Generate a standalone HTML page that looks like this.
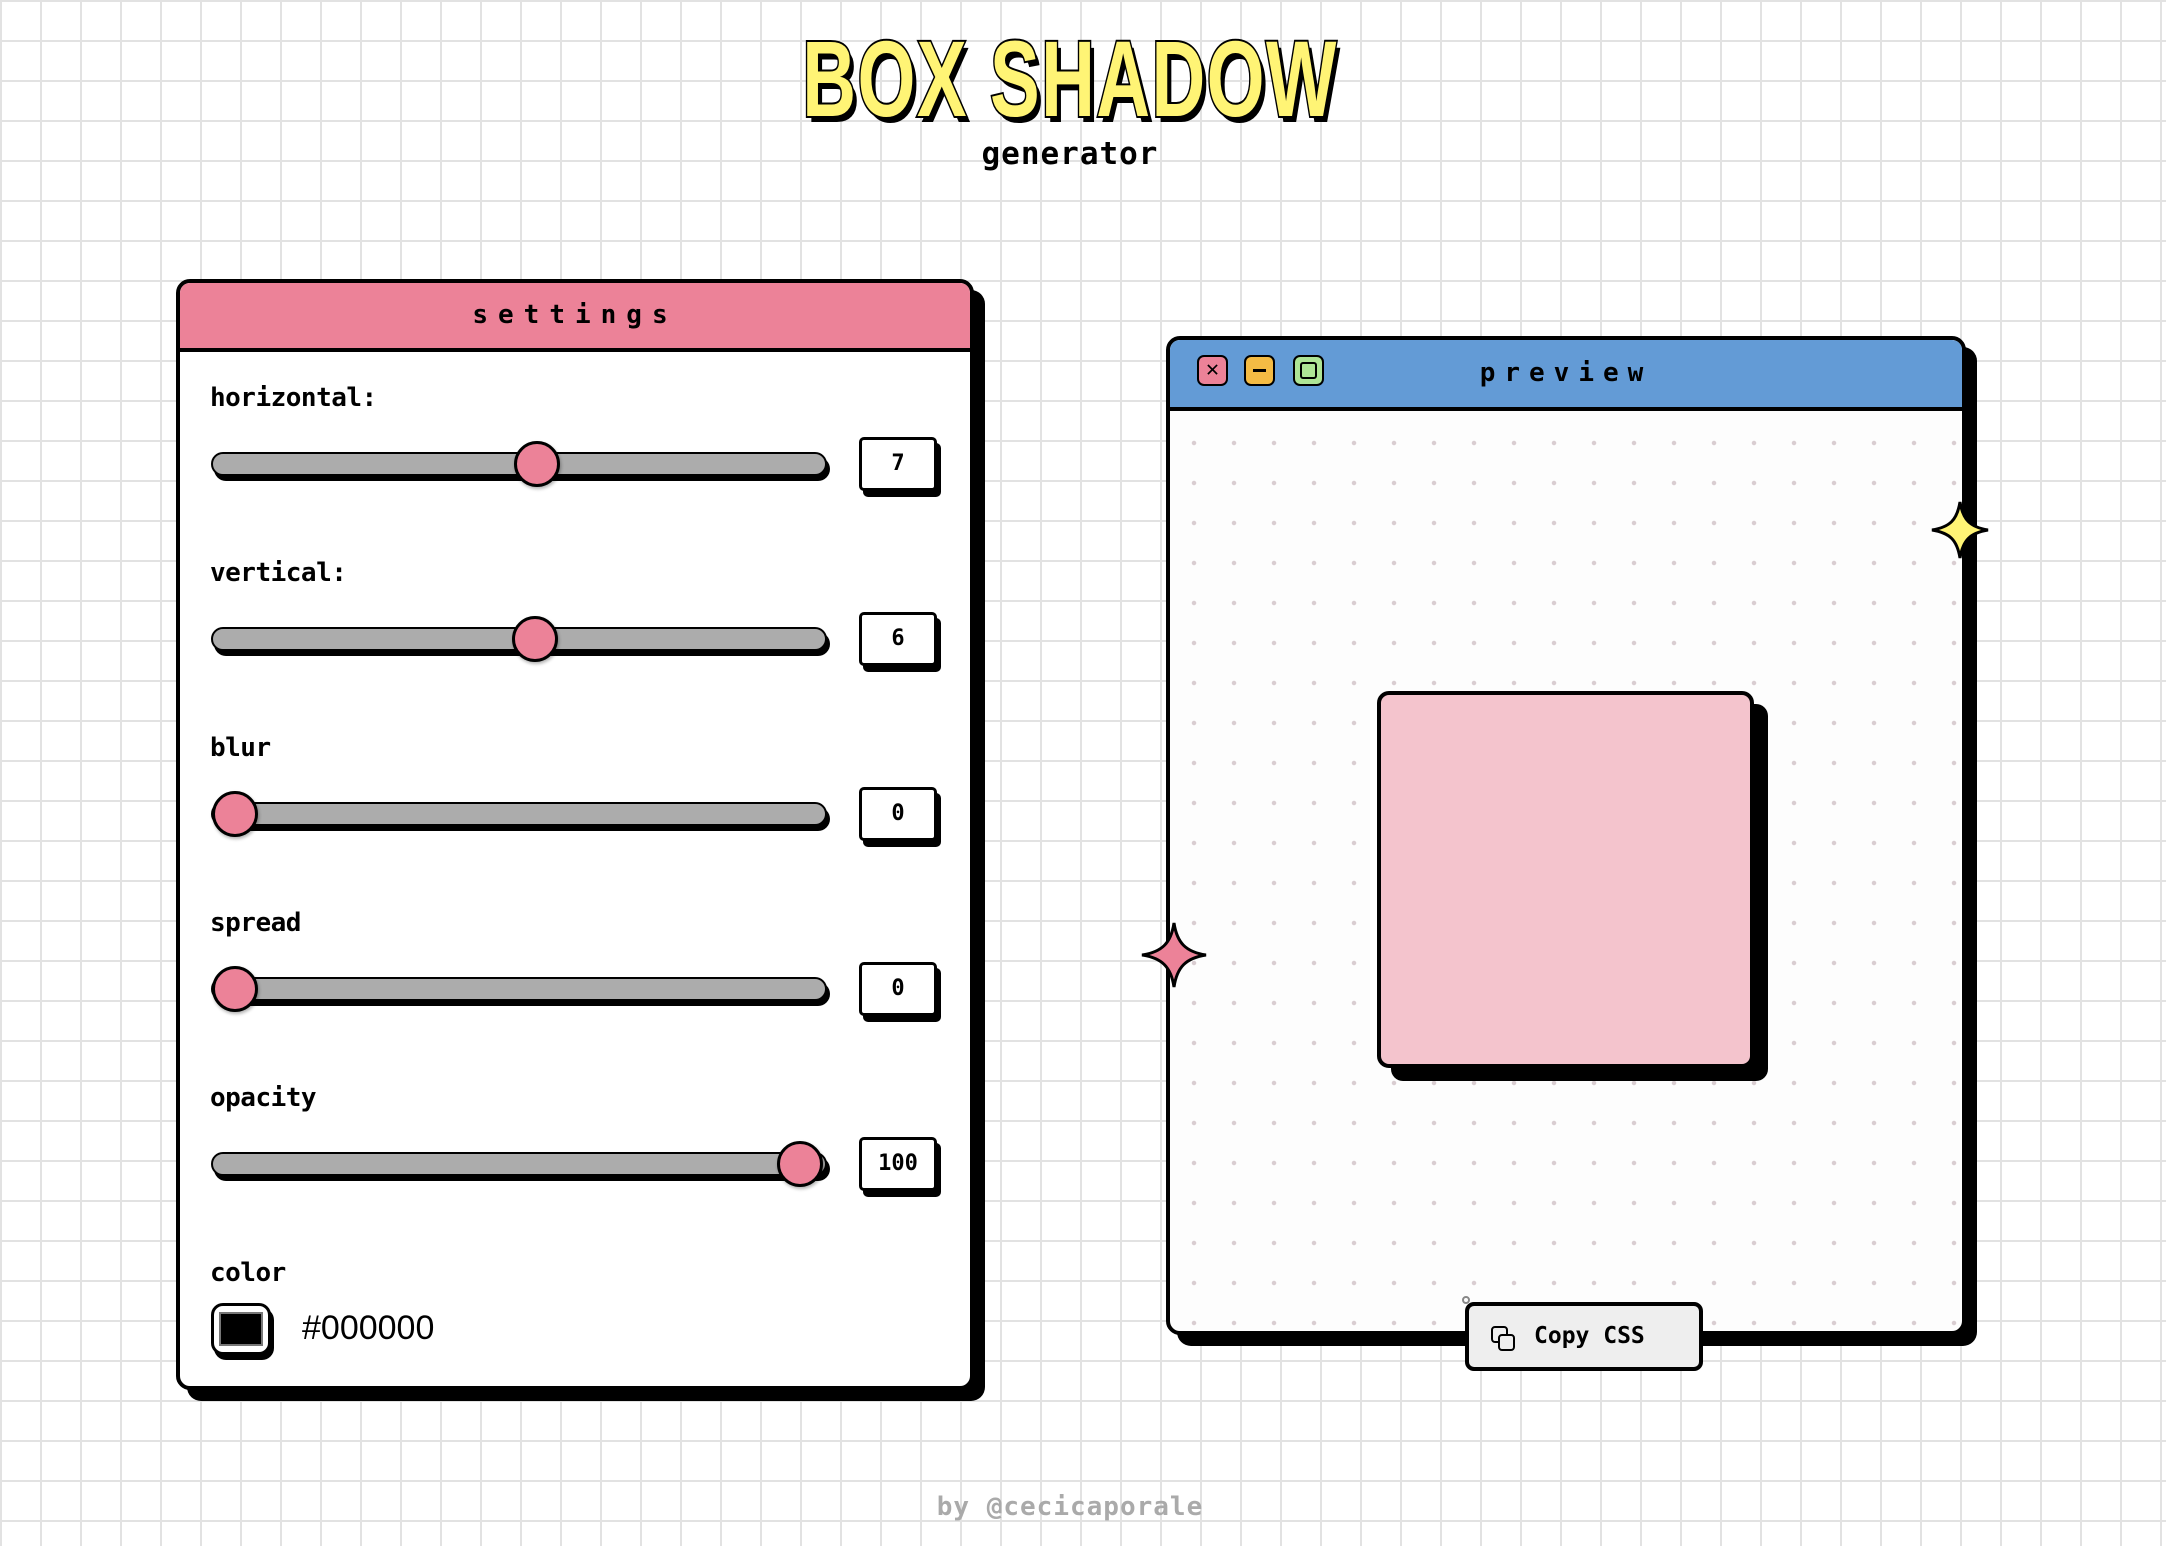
<!DOCTYPE html>
<html><head><meta charset="utf-8"><style>
*{margin:0;padding:0;box-sizing:border-box}
body{width:2166px;height:1546px;overflow:hidden;position:relative;background-color:#fff;
background-image:linear-gradient(#e2e2e2 2px,transparent 2px),linear-gradient(90deg,#e2e2e2 2px,transparent 2px);
background-size:40px 40px;background-position:0 0;font-family:"DejaVu Sans Mono","Liberation Mono",monospace;}
.abs{position:absolute}
.title{position:absolute;left:570px;top:16px;width:1000px;text-align:center;white-space:nowrap}
.title span{display:inline-block;font-family:"Liberation Sans",sans-serif;font-weight:bold;font-size:108px;color:#fff475;
-webkit-text-stroke:4px #000;paint-order:stroke fill;text-shadow:6px 6px 0 #000;transform:scaleX(0.69);transform-origin:center;letter-spacing:2px}
.panel{position:absolute;background:#fff;border:4px solid #000;border-radius:14px;box-shadow:11px 11px 0 #000;overflow:hidden}
.hdr{position:absolute;left:0;top:0;right:0;border-bottom:4px solid #000;text-align:center;font-size:26px;font-weight:bold;letter-spacing:10px}
.lbl{position:absolute;left:210px;font-size:26px;font-weight:bold;letter-spacing:-0.5px}
.track{position:absolute;left:211px;width:616px;height:24px;background:#acacac;border:2px solid #000;border-radius:12px;box-shadow:3px 5px 0 #000}
.thumb{position:absolute;width:46px;height:46px;border-radius:50%;background:#ec8298;border:3px solid #000;box-shadow:1px 2px 3px rgba(0,0,0,.3)}
.val{position:absolute;left:859px;width:78px;height:54px;border:3px solid #000;border-radius:5px;background:#fff;box-shadow:4px 6px 0 #000;text-align:center;line-height:48px;font-size:22px;font-weight:bold}
.btn{position:absolute;top:355px;width:31px;height:31px;border:2px solid #000;border-radius:7px}
</style></head><body>

<div class="title"><span>BOX SHADOW</span></div>
<div class="abs" style="left:960px;top:136px;width:220px;text-align:center;font-size:31px;font-weight:bold;letter-spacing:1px">generator</div>

<!-- settings -->
<div class="panel" style="left:176px;top:279px;width:798px;height:1111px">
  <div class="hdr" style="height:69px;background:#ec8298;line-height:64px">settings</div>
</div>
<div class="lbl" style="top:383px">horizontal:</div>
<div class="track" style="top:452px"></div><div class="thumb" style="left:514px;top:441px"></div>
<div class="val" style="top:437px">7</div>

<div class="lbl" style="top:558px">vertical:</div>
<div class="track" style="top:627px"></div><div class="thumb" style="left:512px;top:616px"></div>
<div class="val" style="top:612px">6</div>

<div class="lbl" style="top:733px">blur</div>
<div class="track" style="top:802px"></div><div class="thumb" style="left:212px;top:791px"></div>
<div class="val" style="top:787px">0</div>

<div class="lbl" style="top:908px">spread</div>
<div class="track" style="top:977px"></div><div class="thumb" style="left:212px;top:966px"></div>
<div class="val" style="top:962px">0</div>

<div class="lbl" style="top:1083px">opacity</div>
<div class="track" style="top:1152px"></div><div class="thumb" style="left:777px;top:1141px"></div>
<div class="val" style="top:1137px">100</div>

<div class="lbl" style="top:1258px">color</div>
<div class="abs" style="left:211px;top:1303px;width:60px;height:52px;border:3px solid #000;border-radius:12px;background:#fff;box-shadow:3px 5px 0 #000">
  <div class="abs" style="left:5px;top:6px;width:44px;height:34px;background:#000;border:2px solid #777"></div>
</div>
<div class="abs" style="left:302px;top:1309px;font-family:'Liberation Sans',sans-serif;font-size:34px">#000000</div>

<!-- preview -->
<div class="panel" style="left:1166px;top:336px;width:800px;height:999px;background-color:#fdfdfd;
background-image:radial-gradient(circle,#d9cdd1 2px,transparent 2.5px);background-size:40px 40px;background-position:4px 83px">
  <div class="hdr" style="height:71px;background:#639bd6;line-height:66px;letter-spacing:9px">preview</div>
</div>
<div class="btn" style="left:1197px;background:#ec8298;text-align:center;line-height:26px;font-size:22px">✕</div>
<div class="btn" style="left:1244px;background:#f4bb44"><div class="abs" style="left:7px;top:12px;width:13px;height:3px;background:#000"></div></div>
<div class="btn" style="left:1293px;background:#aee496"><div class="abs" style="left:5px;top:5px;width:17px;height:17px;border:2px solid #000;border-radius:3px"></div></div>

<div class="abs" style="left:1377px;top:691px;width:377px;height:377px;background:#f4c4cd;border:4px solid #000;border-radius:12px;box-shadow:14px 13px 0 #000"></div>

<!-- stars -->
<svg class="abs" style="left:1930px;top:500px" width="60" height="60" viewBox="0 0 60 60">
<path d="M30 2 C33 20 40 27 58 30 C40 33 33 40 30 58 C27 40 20 33 2 30 C20 27 27 20 30 2Z" fill="#fff475" stroke="#000" stroke-width="3"/></svg>
<svg class="abs" style="left:1140px;top:921px" width="68" height="68" viewBox="0 0 68 68">
<path d="M34 2 C37 22 46 31 66 34 C46 37 37 46 34 66 C31 46 22 37 2 34 C22 31 31 22 34 2Z" fill="#ec8298" stroke="#000" stroke-width="3"/></svg>

<!-- copy css -->
<div class="abs" style="left:1462px;top:1296px;width:8px;height:8px;border:2px solid #888;border-radius:50%"></div>
<div class="abs" style="left:1465px;top:1302px;width:238px;height:69px;background:#eeeeee;border:4px solid #000;border-radius:9px">
  <div class="abs" style="left:22px;top:20px;width:17px;height:17px;border:2.5px solid #000;border-radius:4px"></div>
  <div class="abs" style="left:29px;top:28px;width:17px;height:17px;border:2.5px solid #000;border-radius:4px;background:#eee"></div>
  <div class="abs" style="left:65px;top:17px;font-size:23px;font-weight:bold">Copy CSS</div>
</div>

<div class="abs" style="left:900px;top:1492px;width:340px;text-align:center;font-size:26px;font-weight:bold;color:#aaaaaa;letter-spacing:1px">by @cecicaporale</div>
</body></html>
